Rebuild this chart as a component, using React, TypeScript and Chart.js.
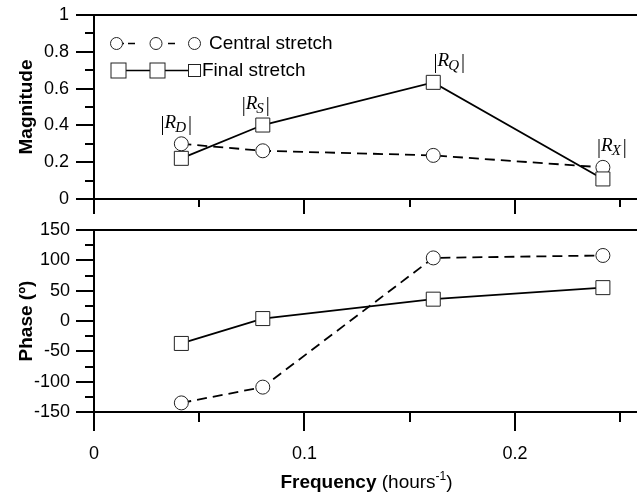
import React, { useEffect, useRef } from 'react';
import { Chart, registerables } from 'chart.js';

Chart.register(...registerables);

// ---- data ----
const frequency = [0.0415, 0.0802, 0.1612, 0.2418];
const centralMagnitude = [0.3, 0.262, 0.237, 0.172];
const finalMagnitude = [0.221, 0.402, 0.634, 0.109];
const centralPhase = [-135, -109, 104, 108];
const finalPhase = [-37, 4, 36, 55];
const componentLabels = ['D', 'S', 'Q', 'X'];
const seriesNames = ['Central stretch', 'Final stretch'];
const xMajorTicks = [0, 0.1, 0.2];
const xMinorTicks = [0.05, 0.15, 0.25];
const magMajorTicks = [0, 0.2, 0.4, 0.6, 0.8, 1];
const magMinorTicks = [0.1, 0.3, 0.5, 0.7, 0.9];
const phaseMajorTicks = [-150, -100, -50, 0, 50, 100, 150];
const phaseMinorTicks = [-125, -75, -25, 25, 75, 125];
const X_MAX = 0.258;

// ---- styles ----
const SANS = '"Liberation Sans", Arial, Helvetica, sans-serif';
const SERIF = '"Liberation Serif", "Times New Roman", serif';
const INK = '#000';
const MARK = '#222';
const labelOffsets = [-5, -7, 16, 9];

Chart.defaults.font.family = SANS;
Chart.defaults.color = INK;

// let the plot area run to the right edge of the canvas (axis is cut off there)
const fullWidthPlugin = {
  id: 'fullWidth',
  afterLayout(chart: any) {
    const xs = chart.scales.x;
    const R = chart.width;
    xs.right = R;
    xs.width = R - xs.left;
    chart.chartArea.right = R;
    chart.chartArea.width = R - chart.chartArea.left;
    xs.configure();
  },
};

type FrameCfg = {
  yMajor: number[];
  yMinor: number[];
  xMajorLen: number;
  xMinorLen: number;
};

function framePlugin(cfg: FrameCfg) {
  return {
    id: 'frame',
    beforeDatasetsDraw(chart: any) {
      const { ctx, chartArea } = chart;
      const xs = chart.scales.x;
      const ys = chart.scales.y;
      const L = Math.round(chartArea.left);
      const R = chart.width;
      const T = Math.round(chartArea.top);
      const B = Math.round(chartArea.bottom);
      ctx.save();
      ctx.strokeStyle = INK;
      ctx.lineWidth = 2;
      ctx.lineCap = 'butt';
      ctx.beginPath();
      ctx.moveTo(L, T - 1);
      ctx.lineTo(L, B + 1);
      ctx.moveTo(L, T);
      ctx.lineTo(R, T);
      ctx.moveTo(L, B);
      ctx.lineTo(R, B);
      cfg.yMajor.forEach((v) => {
        const p = Math.round(ys.getPixelForValue(v));
        ctx.moveTo(L - 18, p);
        ctx.lineTo(L, p);
      });
      cfg.yMinor.forEach((v) => {
        const p = Math.round(ys.getPixelForValue(v));
        ctx.moveTo(L - 9, p);
        ctx.lineTo(L, p);
      });
      xMajorTicks.forEach((v) => {
        const p = Math.round(xs.getPixelForValue(v));
        ctx.moveTo(p, B);
        ctx.lineTo(p, B + cfg.xMajorLen);
      });
      xMinorTicks.forEach((v) => {
        const p = Math.round(xs.getPixelForValue(v));
        ctx.moveTo(p, B);
        ctx.lineTo(p, B + cfg.xMinorLen);
      });
      ctx.stroke();
      ctx.restore();
    },
  };
}

function drawCircle(ctx: CanvasRenderingContext2D, x: number, y: number, r: number) {
  ctx.beginPath();
  ctx.arc(x, y, r, 0, Math.PI * 2);
  ctx.fillStyle = '#fff';
  ctx.fill();
  ctx.lineWidth = 1;
  ctx.strokeStyle = MARK;
  ctx.stroke();
}

function drawSquare(ctx: CanvasRenderingContext2D, x: number, y: number, s: number) {
  ctx.fillStyle = '#fff';
  ctx.fillRect(x - s / 2, y - s / 2, s, s);
  ctx.lineWidth = 1;
  ctx.strokeStyle = MARK;
  ctx.strokeRect(x - s / 2, y - s / 2, s, s);
}

const legendPlugin = {
  id: 'customLegend',
  afterDatasetsDraw(chart: any) {
    const ctx: CanvasRenderingContext2D = chart.ctx;
    ctx.save();
    // row 1: central stretch (dashed, circles)
    const y1 = 43.5;
    ctx.strokeStyle = INK;
    ctx.lineWidth = 1.6;
    ctx.beginPath();
    ctx.moveTo(121, y1);
    ctx.lineTo(124, y1);
    ctx.moveTo(128, y1);
    ctx.lineTo(135, y1);
    ctx.moveTo(168, y1);
    ctx.lineTo(175, y1);
    ctx.stroke();
    [116.5, 156, 194.5].forEach((cx) => drawCircle(ctx, cx, y1, 6));
    // row 2: final stretch (solid, squares)
    const y2 = 70.5;
    ctx.strokeStyle = INK;
    ctx.lineWidth = 1.6;
    ctx.beginPath();
    ctx.moveTo(118, y2);
    ctx.lineTo(194, y2);
    ctx.stroke();
    drawSquare(ctx, 118.5, y2, 15);
    drawSquare(ctx, 157.5, y2, 15);
    drawSquare(ctx, 194.5, y2, 12);
    ctx.fillStyle = INK;
    ctx.font = `19px ${SANS}`;
    ctx.textBaseline = 'middle';
    ctx.textAlign = 'left';
    ctx.fillText(seriesNames[0], 209, y1);
    ctx.fillText(seriesNames[1], 202, y2);
    ctx.restore();
  },
};

const annotationPlugin = {
  id: 'annotations',
  afterDatasetsDraw(chart: any) {
    const ctx: CanvasRenderingContext2D = chart.ctx;
    const xs = chart.scales.x;
    const ys = chart.scales.y;
    ctx.save();
    ctx.fillStyle = INK;
    ctx.textBaseline = 'alphabetic';
    ctx.textAlign = 'left';
    componentLabels.forEach((sub, i) => {
      const top = Math.max(centralMagnitude[i], finalMagnitude[i]);
      const cx = xs.getPixelForValue(frequency[i]) + labelOffsets[i];
      const base = ys.getPixelForValue(top) - 16;
      const fBar = `20px ${SERIF}`;
      const fR = `italic 19px ${SERIF}`;
      const fSub = `italic 15px ${SERIF}`;
      ctx.font = fBar;
      const wBar = ctx.measureText('|').width;
      ctx.font = fR;
      const wR = ctx.measureText('R').width;
      ctx.font = fSub;
      const wS = ctx.measureText(sub).width;
      const total = wBar * 2 + wR + wS + 1;
      let x = cx - total / 2;
      ctx.font = fBar;
      ctx.fillText('|', x, base + 2);
      x += wBar;
      ctx.font = fR;
      ctx.fillText('R', x, base);
      x += wR - 1;
      ctx.font = fSub;
      ctx.fillText(sub, x, base + 4);
      x += wS + 2;
      ctx.font = fBar;
      ctx.fillText('|', x, base + 2);
    });
    ctx.restore();
  },
};

const xTitlePlugin = {
  id: 'xTitle',
  afterDraw(chart: any) {
    const ctx: CanvasRenderingContext2D = chart.ctx;
    const { chartArea } = chart;
    const cx = (chartArea.left + chart.width) / 2 + 1;
    const y = 268;
    ctx.save();
    ctx.fillStyle = INK;
    ctx.textBaseline = 'middle';
    ctx.textAlign = 'left';
    const fB = `bold 19px ${SANS}`;
    const fN = `19px ${SANS}`;
    const fS = `12px ${SANS}`;
    const p1 = 'Frequency';
    const p2 = ' (hours';
    const p3 = '-1';
    const p4 = ')';
    ctx.font = fB;
    const w1 = ctx.measureText(p1).width;
    ctx.font = fN;
    const w2 = ctx.measureText(p2).width;
    const w4 = ctx.measureText(p4).width;
    ctx.font = fS;
    const w3 = ctx.measureText(p3).width;
    let x = cx - (w1 + w2 + w3 + w4) / 2;
    ctx.font = fB;
    ctx.fillText(p1, x, y);
    x += w1;
    ctx.font = fN;
    ctx.fillText(p2, x, y);
    x += w2;
    ctx.font = fS;
    ctx.fillText(p3, x, y - 6);
    x += w3;
    ctx.font = fN;
    ctx.fillText(p4, x, y);
    ctx.restore();
  },
};

function makeDatasets(central: number[], fin: number[]) {
  return [
    {
      label: seriesNames[1],
      data: frequency.map((x, i) => ({ x, y: fin[i] })),
      borderColor: INK,
      borderWidth: 1.8,
      pointStyle: 'rect',
      pointRadius: 9.9,
      pointBackgroundColor: '#fff',
      pointBorderColor: MARK,
      pointBorderWidth: 1,
      tension: 0,
      order: 0,
    },
    {
      label: seriesNames[0],
      data: frequency.map((x, i) => ({ x, y: central[i] })),
      borderColor: INK,
      borderWidth: 1.8,
      borderDash: [10, 6],
      pointStyle: 'circle',
      pointRadius: 7,
      pointBackgroundColor: '#fff',
      pointBorderColor: MARK,
      pointBorderWidth: 1,
      tension: 0,
      order: 1,
    },
  ];
}

const fmt = (v: any) => String(+Number(v).toFixed(3));

// invisible grid ticks used only to offset labels from the axis
const spacerGrid = (len: number) => ({
  display: true,
  drawOnChartArea: false,
  drawTicks: true,
  tickLength: len,
  color: 'rgba(0,0,0,0)',
  tickColor: 'rgba(0,0,0,0)',
});

export default function App() {
  const topRef = useRef<HTMLCanvasElement | null>(null);
  const botRef = useRef<HTMLCanvasElement | null>(null);

  useEffect(() => {
    const tickFont = { family: SANS, size: 18 };
    const titleFont = { family: SANS, size: 19, weight: 'bold' as const };

    const top = new Chart(topRef.current as HTMLCanvasElement, {
      type: 'line',
      data: { datasets: makeDatasets(centralMagnitude, finalMagnitude) as any },
      options: {
        animation: false,
        responsive: false,
        maintainAspectRatio: false,
        layout: { padding: { top: 15, left: 0, right: 0, bottom: 0 } },
        plugins: { legend: { display: false }, tooltip: { enabled: false } },
        scales: {
          x: {
            type: 'linear',
            min: 0,
            max: X_MAX,
            grid: { display: false },
            border: { display: false },
            ticks: { display: false },
            afterFit: (s: any) => {
              s.height = 16;
            },
          },
          y: {
            type: 'linear',
            min: 0,
            max: 1,
            grid: spacerGrid(25),
            border: { display: false },
            ticks: { stepSize: 0.2, padding: 0, font: tickFont, color: INK, autoSkip: false, callback: fmt },
            title: { display: true, text: 'Magnitude', font: titleFont, color: INK, padding: { top: 15, bottom: 0 } },
            afterFit: (s: any) => {
              s.width = 94;
            },
          },
        },
      },
      plugins: [fullWidthPlugin, framePlugin({ yMajor: magMajorTicks, yMinor: magMinorTicks, xMajorLen: 15, xMinorLen: 8 }), legendPlugin, annotationPlugin],
    });

    const bot = new Chart(botRef.current as HTMLCanvasElement, {
      type: 'line',
      data: { datasets: makeDatasets(centralPhase, finalPhase) as any },
      options: {
        animation: false,
        responsive: false,
        maintainAspectRatio: false,
        layout: { padding: { top: 15, left: 0, right: 0, bottom: 0 } },
        plugins: { legend: { display: false }, tooltip: { enabled: false } },
        scales: {
          x: {
            type: 'linear',
            min: 0,
            max: X_MAX,
            grid: spacerGrid(31),
            border: { display: false },
            ticks: { stepSize: 0.1, includeBounds: false, padding: 0, font: tickFont, color: INK, autoSkip: false, maxRotation: 0, callback: fmt },
            afterFit: (s: any) => {
              s.height = 85;
            },
          },
          y: {
            type: 'linear',
            min: -150,
            max: 150,
            grid: spacerGrid(24),
            border: { display: false },
            ticks: { stepSize: 50, padding: 0, font: tickFont, color: INK, autoSkip: false, callback: fmt },
            title: { display: true, text: 'Phase (º)', font: titleFont, color: INK, padding: { top: 15, bottom: 0 } },
            afterFit: (s: any) => {
              s.width = 94;
            },
          },
        },
      },
      plugins: [fullWidthPlugin, framePlugin({ yMajor: phaseMajorTicks, yMinor: phaseMinorTicks, xMajorLen: 19, xMinorLen: 10 }), xTitlePlugin],
    });

    return () => {
      top.destroy();
      bot.destroy();
    };
  }, []);

  return (
    <div style={{ position: 'absolute', left: 0, top: 0, width: 637, height: 497, background: '#fff' }}>
      <canvas ref={topRef} width={637} height={215} style={{ position: 'absolute', left: 0, top: 0 }} />
      <canvas ref={botRef} width={637} height={282} style={{ position: 'absolute', left: 0, top: 215 }} />
    </div>
  );
}
